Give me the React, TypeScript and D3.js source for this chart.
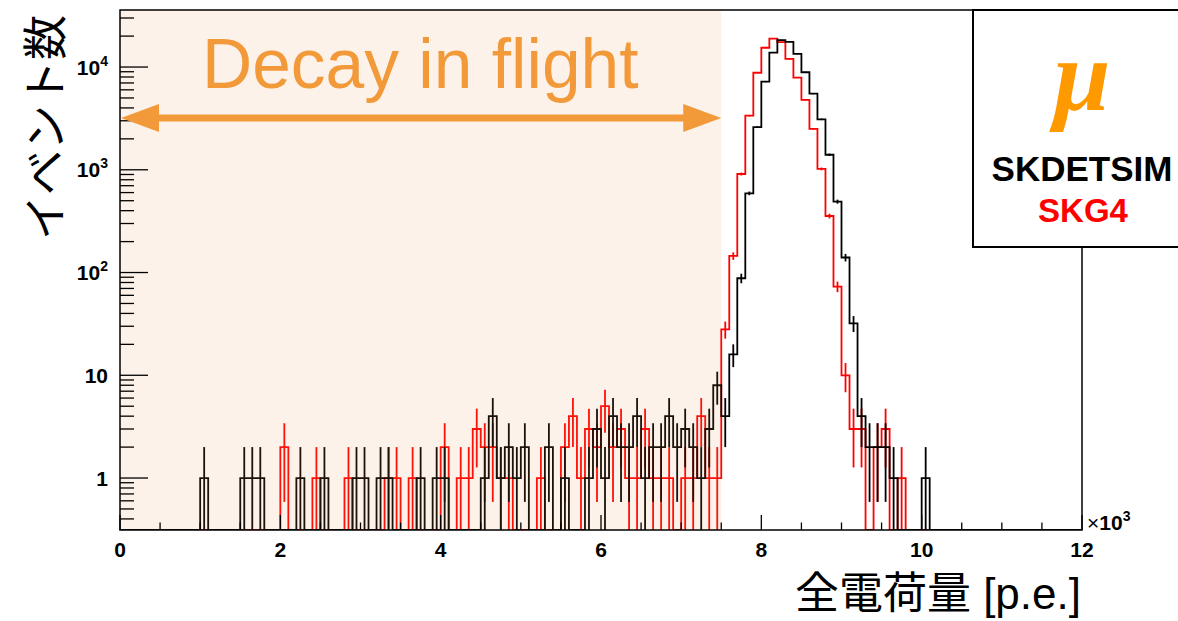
import React from 'react';
import * as d3 from 'd3';

// Total-charge histograms, 100 p.e. per bin from 0 to 12000 p.e.
const BIN_WIDTH = 100;
const N_BINS = 120;

// SKDETSIM (black)
const skdetsimCounts = [
  0, 0, 0, 0, 0, 0, 0, 0, 0, 0,
  1, 0, 0, 0, 0, 1, 1, 1, 0, 0,
  0, 0, 1, 0, 0, 1, 0, 0, 0, 1,
  1, 0, 1, 1, 0, 0, 0, 1, 0, 1,
  1, 0, 0, 0, 0, 1, 4, 1, 2, 1,
  2, 0, 0, 2, 0, 1, 0, 0, 1, 3,
  1, 4, 2, 2, 4, 1, 2, 2, 4, 2,
  3, 2, 1, 3, 8, 4, 16, 88, 590, 2600,
  7200, 13800, 18300, 17600, 13400, 8900, 5500, 3100, 1400, 490,
  140, 32, 4, 2, 2, 2, 1, 0, 0, 0,
  1, 0, 0, 0, 0, 0, 0, 0, 0, 0,
  0, 0, 0, 0, 0, 0, 0, 0, 0, 0,
];

// SKG4 (red)
const skg4Counts = [
  0, 0, 0, 0, 0, 0, 0, 0, 0, 0,
  0, 0, 0, 0, 0, 0, 0, 0, 0, 0,
  2, 0, 0, 0, 1, 0, 0, 0, 1, 0,
  0, 0, 0, 1, 1, 0, 1, 0, 0, 0,
  2, 0, 1, 1, 3, 2, 2, 1, 1, 0,
  0, 0, 1, 0, 0, 2, 4, 1, 3, 2,
  5, 2, 3, 1, 1, 3, 1, 1, 1, 0,
  1, 1, 4, 1, 1, 28, 145, 910, 3360, 8800,
  15400, 18900, 17500, 12000, 7900, 4800, 2500, 1020, 355, 73,
  10, 3, 3, 0, 2, 3, 0, 1, 0, 0,
  0, 0, 0, 0, 0, 0, 0, 0, 0, 0,
  0, 0, 0, 0, 0, 0, 0, 0, 0, 0,
];

const xMajorTicks = [0, 2000, 4000, 6000, 8000, 10000, 12000];
const xTickLabels = ['0', '2', '4', '6', '8', '10', '12'];
const yDecades = [1, 10, 100, 1000, 10000];
const yDecadeBase = ['1', '10', '10', '10', '10'];
const yDecadeExp = ['', '', '2', '3', '4'];

const decayRegionEnd = 7500;

const W = 1178;
const H = 621;
const frame = { left: 120, right: 1082, top: 10, bottom: 530 };

const x = d3.scaleLinear().domain([0, N_BINS * BIN_WIDTH]).range([frame.left, frame.right]);
const y = d3.scaleLog().domain([0.312, 35900]).range([frame.bottom, frame.top]);

const LABEL_FONT = '"Liberation Sans", Arial, Helvetica, sans-serif';
const TITLE_FONT = '"Liberation Sans", "Noto Sans CJK JP", sans-serif';
const CJK_FONT = '"Noto Sans CJK JP", "Noto Sans", sans-serif';
const ORANGE = '#F29A3A';

function levelOf(v: number) {
  return v > 0 ? y(v) : frame.bottom;
}

function stepPath(counts: number[]) {
  const path = d3.path();
  path.moveTo(x(0), frame.bottom);
  counts.forEach((v, i) => {
    const yy = levelOf(v);
    path.lineTo(x(i * BIN_WIDTH), yy);
    path.lineTo(x((i + 1) * BIN_WIDTH), yy);
  });
  path.lineTo(x(counts.length * BIN_WIDTH), frame.bottom);
  return path.toString();
}

function errorBars(counts: number[]) {
  return counts
    .map((v, i) => ({ v, i }))
    .filter((d) => d.v > 0)
    .map(({ v, i }) => {
      const s = Math.sqrt(v);
      const lo = v - s;
      return {
        key: i,
        cx: x((i + 0.5) * BIN_WIDTH),
        y1: Math.max(frame.top, y(v + s)),
        y2: lo > y.domain()[0] ? y(lo) : frame.bottom,
      };
    });
}

function Histogram({ counts, color }: { counts: number[]; color: string }) {
  return (
    <g>
      <path d={stepPath(counts)} fill="none" stroke={color} strokeWidth={1.8} strokeLinejoin="miter" />
      {errorBars(counts).map((e) => (
        <line key={e.key} x1={e.cx} x2={e.cx} y1={e.y1} y2={e.y2} stroke={color} strokeWidth={1.8} />
      ))}
    </g>
  );
}

export default function App() {
  // minor ticks on the log axis: 2..9 x each decade inside the range
  const [yLo, yHi] = y.domain();
  const yMinor: number[] = [];
  for (let e = -1; e <= 4; e++) {
    for (let m = 2; m <= 9; m++) {
      const v = m * Math.pow(10, e);
      if (v >= yLo && v <= yHi) yMinor.push(v);
    }
  }
  const xMinor = d3.range(0, 12001, 500).filter((v) => v % 2000 !== 0);

  const arrowY = 118;
  const ax0 = x(0) + 1;
  const ax1 = x(decayRegionEnd);
  const headL = 38;
  const headH = 14;

  return (
    <svg
      width={W}
      height={H}
      viewBox={`0 0 ${W} ${H}`}
      style={{ position: 'absolute', left: 0, top: 0, background: '#fff' }}
    >
      <defs>
        <clipPath id="plotClip">
          <rect x={frame.left} y={frame.top} width={frame.right - frame.left} height={frame.bottom - frame.top} />
        </clipPath>
      </defs>

      <g clipPath="url(#plotClip)">
        <Histogram counts={skg4Counts} color="#ff0000" />
        <Histogram counts={skdetsimCounts} color="#000000" />
      </g>

      {/* shaded decay-in-flight region */}
      <rect
        x={x(0)}
        y={frame.top}
        width={x(decayRegionEnd) - x(0)}
        height={frame.bottom - frame.top}
        fill="rgb(240,150,70)"
        fillOpacity={0.12}
      />

      {/* frame */}
      <rect
        x={frame.left}
        y={frame.top}
        width={frame.right - frame.left}
        height={frame.bottom - frame.top}
        fill="none"
        stroke="#000"
        strokeWidth={1.5}
      />

      {/* y axis ticks */}
      {yDecades.map((v) => (
        <line key={'ym' + v} x1={frame.left} x2={frame.left + 28} y1={y(v)} y2={y(v)} stroke="#000" strokeWidth={1.3} />
      ))}
      {yMinor.map((v) => (
        <line key={'yn' + v} x1={frame.left} x2={frame.left + 14} y1={y(v)} y2={y(v)} stroke="#000" strokeWidth={1.3} />
      ))}
      {yDecades.map((v, i) => (
        <text
          key={'yl' + v}
          x={108}
          y={y(v) + 7.5}
          textAnchor="end"
          fontFamily={LABEL_FONT}
          fontWeight="bold"
          fontSize={21}
        >
          {yDecadeBase[i]}
          {yDecadeExp[i] && (
            <tspan fontSize={14} dy={-9}>
              {yDecadeExp[i]}
            </tspan>
          )}
        </text>
      ))}

      {/* x axis ticks */}
      {xMajorTicks.map((v) => (
        <line key={'xm' + v} x1={x(v)} x2={x(v)} y1={frame.bottom} y2={frame.bottom - 15} stroke="#000" strokeWidth={1.3} />
      ))}
      {xMinor.map((v) => (
        <line key={'xn' + v} x1={x(v)} x2={x(v)} y1={frame.bottom} y2={frame.bottom - 7.5} stroke="#000" strokeWidth={1.3} />
      ))}
      {xMajorTicks.map((v, i) => (
        <text
          key={'xl' + v}
          x={x(v)}
          y={557}
          textAnchor="middle"
          fontFamily={LABEL_FONT}
          fontWeight="bold"
          fontSize={21}
        >
          {xTickLabels[i]}
        </text>
      ))}
      <text x={1087} y={530} fontFamily={LABEL_FONT} fontSize={21}>
        ×<tspan fontWeight="bold">10</tspan>
        <tspan fontWeight="bold" fontSize={14} dy={-9}>
          3
        </tspan>
      </text>

      {/* axis titles */}
      <text x={1081} y={609} textAnchor="end" fontFamily={TITLE_FONT} fontSize={44}>
        全電荷量 [p.e.]
      </text>
      <text
        transform={`translate(62,15) rotate(-90)`}
        textAnchor="end"
        fontFamily={CJK_FONT}
        fontSize={45}
      >
        イベント数
      </text>

      {/* decay-in-flight annotation */}
      <text x={202} y={88} fontFamily={LABEL_FONT} fontSize={69.5} fill={ORANGE}>
        Decay in flight
      </text>
      <line x1={ax0 + headL - 2} x2={ax1 - headL + 2} y1={arrowY} y2={arrowY} stroke={ORANGE} strokeWidth={7} />
      <polygon
        points={`${ax0},${arrowY} ${ax0 + headL},${arrowY - headH} ${ax0 + headL},${arrowY + headH}`}
        fill={ORANGE}
      />
      <polygon
        points={`${ax1},${arrowY} ${ax1 - headL},${arrowY - headH} ${ax1 - headL},${arrowY + headH}`}
        fill={ORANGE}
      />

      {/* legend */}
      <rect x={973} y={10} width={260} height={237} fill="#fff" stroke="#000" strokeWidth={2} />
      <text
        x={1082}
        y={110}
        textAnchor="middle"
        fontFamily='"Liberation Serif", "Times New Roman", serif'
        fontStyle="italic"
        fontWeight="bold"
        fontSize={102}
        fill="#FF9900"
      >
        μ
      </text>
      <text x={1082} y={181} textAnchor="middle" fontFamily={LABEL_FONT} fontWeight="bold" fontSize={35} fill="#000">
        SKDETSIM
      </text>
      <text x={1083} y={222} textAnchor="middle" fontFamily={LABEL_FONT} fontWeight="bold" fontSize={33} fill="#ff0000">
        SKG4
      </text>
    </svg>
  );
}
